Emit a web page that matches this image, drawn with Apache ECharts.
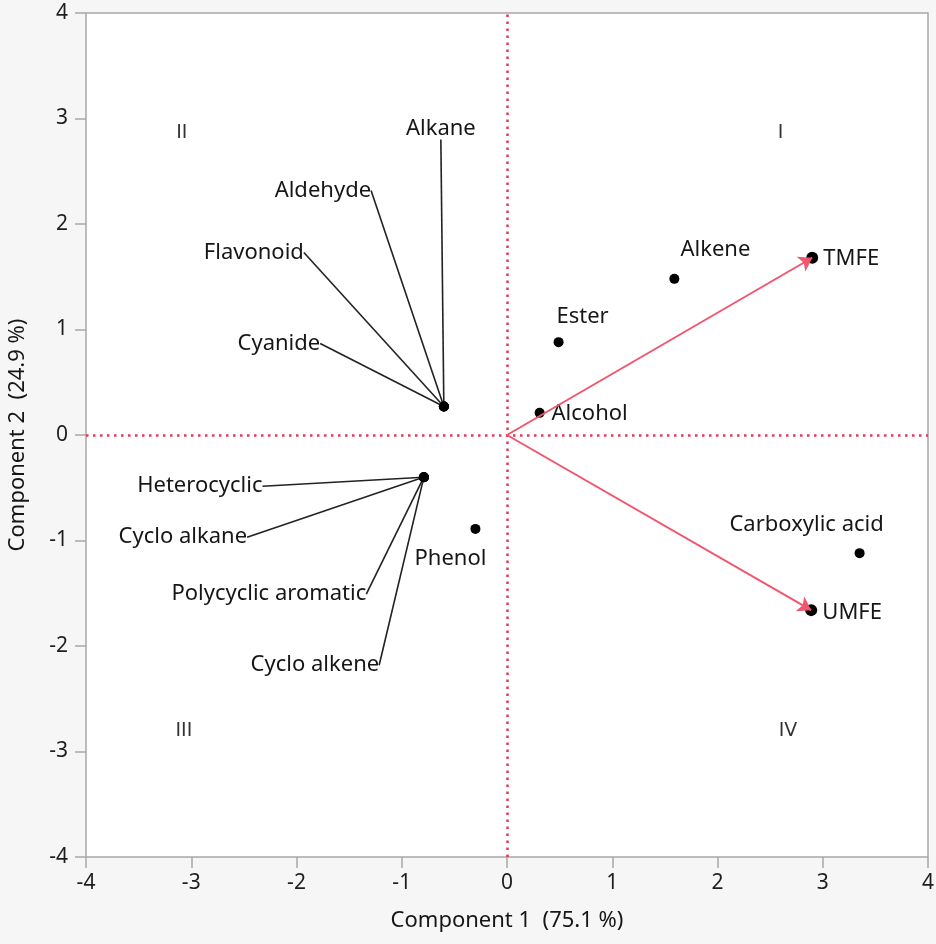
<!DOCTYPE html>
<html>
<head>
    <meta charset="UTF-8">
    <title>PCA biplot</title>
    <script src="https://cdn.jsdelivr.net/npm/echarts@6.0.0/dist/echarts.min.js"></script>
    <style>
        html, body {
            margin: 0;
            padding: 0;
            background: #f6f6f6;
        }

        #biplot {
            width: 936px;
            height: 944px;
        }
    </style>
</head>
<body>
<div id="biplot"></div>

<script>
    // compound classes (scores)
    const compounds = ['Alkane', 'Aldehyde', 'Flavonoid', 'Cyanide',
        'Heterocyclic', 'Cyclo alkane', 'Polycyclic aromatic', 'Cyclo alkene',
        'Phenol', 'Alkene', 'Ester', 'Alcohol', 'Carboxylic acid'];
    const comp1 = [-0.6, -0.6, -0.6, -0.6, -0.79, -0.79, -0.79, -0.79, -0.3, 1.59, 0.49, 0.31, 3.35];
    const comp2 = [0.27, 0.27, 0.27, 0.27, -0.4, -0.4, -0.4, -0.4, -0.89, 1.48, 0.88, 0.21, -1.12];

    // loading vectors
    const loadingNames = ['TMFE', 'UMFE'];
    const loading1 = [2.9, 2.89];
    const loading2 = [1.68, -1.66];

    // quadrant marks
    const quadrantNames = ['I', 'II', 'III', 'IV'];
    const quadrant1 = [2.6, -3.09, -3.07, 2.67];
    const quadrant2 = [2.86, 2.86, -2.81, -2.81];

    // axis range
    const axisMin = -4;
    const axisMax = 4;
    const axisStep = 1;

    // label placement (pixels from the point), and which labels get a leader line
    const labelShift = {
        'Alkane': [-3, -278],
        'Aldehyde': [-121, -216],
        'Flavonoid': [-190, -154],
        'Cyanide': [-165, -63],
        'Heterocyclic': [-224, 9],
        'Cyclo alkane': [-241, 60],
        'Polycyclic aromatic': [-155, 117],
        'Cyclo alkene': [-109, 188],
        'Phenol': [-25, 30],
        'Alkene': [41, -29],
        'Ester': [24, -25],
        'Alcohol': [50, 1],
        'Carboxylic acid': [-53, -28],
        'TMFE': [39, 1],
        'UMFE': [41, 3]
    };
    const withLeader = ['Alkane', 'Aldehyde', 'Flavonoid', 'Cyanide',
        'Heterocyclic', 'Cyclo alkane', 'Polycyclic aromatic', 'Cyclo alkene'];

    const textColor = '#161616';
    const fontFamily = '"Noto Sans", "Open Sans", sans-serif';

    const chart = echarts.init(document.getElementById('biplot'));

    const scoreData = compounds.map((name, i) => ({
        name: name,
        value: [comp1[i], comp2[i]],
        labelLine: { show: withLeader.indexOf(name) >= 0 }
    }));
    const loadingData = loadingNames.map((name, i) => ({
        name: name,
        value: [loading1[i], loading2[i]]
    }));
    const quadrantData = quadrantNames.map((name, i) => ({
        name: name,
        value: [quadrant1[i], quadrant2[i]]
    }));

    const axisCommon = {
        type: 'value',
        min: axisMin,
        max: axisMax,
        interval: axisStep,
        nameLocation: 'middle',
        nameTextStyle: { color: textColor, fontSize: 22, fontFamily: fontFamily },
        axisLine: { show: false, onZero: false },
        axisTick: { show: true, inside: false, length: 11, lineStyle: { color: '#a8a8a8', width: 1.5 } },
        axisLabel: { color: '#1e1e1e', fontSize: 21, fontFamily: fontFamily },
        splitLine: { show: false }
    };

    const option = {
        backgroundColor: '#f6f6f6',
        animation: false,
        grid: {
            left: 86,
            right: 8,
            top: 13,
            bottom: 87,
            outerBoundsMode: 'none',
            containLabel: false,
            show: true,
            backgroundColor: '#ffffff',
            borderColor: '#a8a8a8',
            borderWidth: 1.5
        },
        xAxis: Object.assign({}, axisCommon, {
            name: 'Component 1  (75.1 %)',
            nameGap: 53,
            axisLabel: Object.assign({}, axisCommon.axisLabel, { margin: 16 })
        }),
        yAxis: Object.assign({}, axisCommon, {
            name: 'Component 2  (24.9 %)',
            nameGap: 57,
            axisLabel: Object.assign({}, axisCommon.axisLabel, { margin: 18 })
        }),
        series: [
            {
                // quadrant reference lines
                name: 'origin',
                type: 'scatter',
                data: [],
                silent: true,
                markLine: {
                    silent: true,
                    symbol: 'none',
                    label: { show: false },
                    lineStyle: { color: '#e3385a', width: 2.5, type: [2.5, 4.5] },
                    data: [{ xAxis: 0 }, { yAxis: 0 }]
                }
            },
            {
                name: 'quadrant',
                type: 'scatter',
                data: quadrantData,
                symbolSize: 0,
                silent: true,
                label: {
                    show: true,
                    position: 'inside',
                    formatter: '{b}',
                    color: '#000',
                    fontSize: 19,
                    fontFamily: '"DejaVu Sans", sans-serif'
                }
            },
            {
                name: 'scores',
                type: 'scatter',
                data: scoreData,
                symbolSize: 10,
                itemStyle: { color: '#000', opacity: 1 },
                label: {
                    show: true,
                    position: 'inside',
                    formatter: '{b}',
                    color: textColor,
                    fontSize: 22,
                    fontFamily: fontFamily
                },
                labelLine: {
                    show: true,
                    lineStyle: { color: '#222', width: 1.6 }
                },
                labelLayout: function (p) {
                    const s = labelShift[compounds[p.dataIndex]];
                    return { dx: s[0], dy: s[1] };
                }
            },
            {
                name: 'loadings',
                type: 'scatter',
                data: loadingData,
                symbolSize: 12,
                itemStyle: { color: '#000', opacity: 1 },
                label: {
                    show: true,
                    position: 'inside',
                    formatter: '{b}',
                    color: textColor,
                    fontSize: 22,
                    fontFamily: fontFamily
                },
                labelLayout: function (p) {
                    const s = labelShift[loadingNames[p.dataIndex]];
                    return { dx: s[0], dy: s[1] };
                },
                markLine: {
                    silent: true,
                    z: 5,
                    symbol: ['none', 'arrow'],
                    symbolSize: 13,
                    label: { show: false },
                    lineStyle: { color: '#f0566e', width: 2, type: 'solid' },
                    data: loadingData.map(d => [
                        { coord: [0, 0] },
                        { coord: d.value }
                    ])
                }
            }
        ]
    };

    chart.setOption(option);
</script>
</body>
</html>
